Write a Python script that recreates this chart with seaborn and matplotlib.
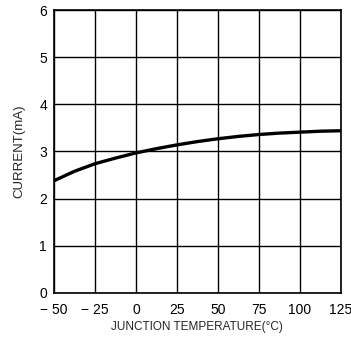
import numpy as np
import pandas as pd
import matplotlib
matplotlib.use('Agg')
import matplotlib.pyplot as plt
import seaborn as sns

# Current vs junction temperature
temperature = [-50, -37.5, -25, -12.5, 0, 12.5, 25, 37.5, 50, 62.5, 75, 87.5, 100, 112.5, 125]
current_ma = [2.38, 2.58, 2.74, 2.86, 2.97, 3.06, 3.14, 3.21, 3.27, 3.32, 3.36, 3.39, 3.41, 3.43, 3.44]

x_ticks = [-50, -25, 0, 25, 50, 75, 100, 125]
x_ticklabels = ['\u2212 50', '\u2212 25', '0', '25', '50', '75', '100', '125']
y_ticks = [0, 1, 2, 3, 4, 5, 6]

df = pd.DataFrame({'temp': temperature, 'current': current_ma})

sns.set_style('white')
plt.rcParams['font.family'] = ['Liberation Sans Narrow', 'Liberation Sans', 'DejaVu Sans']

fig = plt.figure(figsize=(3.51, 3.37), dpi=100)
ax = fig.add_axes([0.154, 0.131, 0.817, 0.839])

sns.lineplot(data=df, x='temp', y='current', ax=ax, color='black', linewidth=2.4)

ax.set_xlim(-50, 125)
ax.set_ylim(0, 6)
ax.set_xticks(x_ticks)
ax.set_xticklabels(x_ticklabels)
ax.set_yticks(y_ticks)
ax.grid(True, color='black', linewidth=1.0)
ax.tick_params(axis='x', length=0, labelsize=10, pad=7, colors='black')
ax.tick_params(axis='y', length=0, labelsize=10, pad=5, colors='black')
for s in ax.spines.values():
    s.set_color('black')
    s.set_linewidth(1.2)

ax.set_xlabel('JUNCTION TEMPERATURE(\u00b0C)', fontsize=8.5, labelpad=3)
ax.set_ylabel('CURRENT(mA)', fontsize=9.5, labelpad=10)

plt.savefig('out.png', dpi=100)
plt.close()
